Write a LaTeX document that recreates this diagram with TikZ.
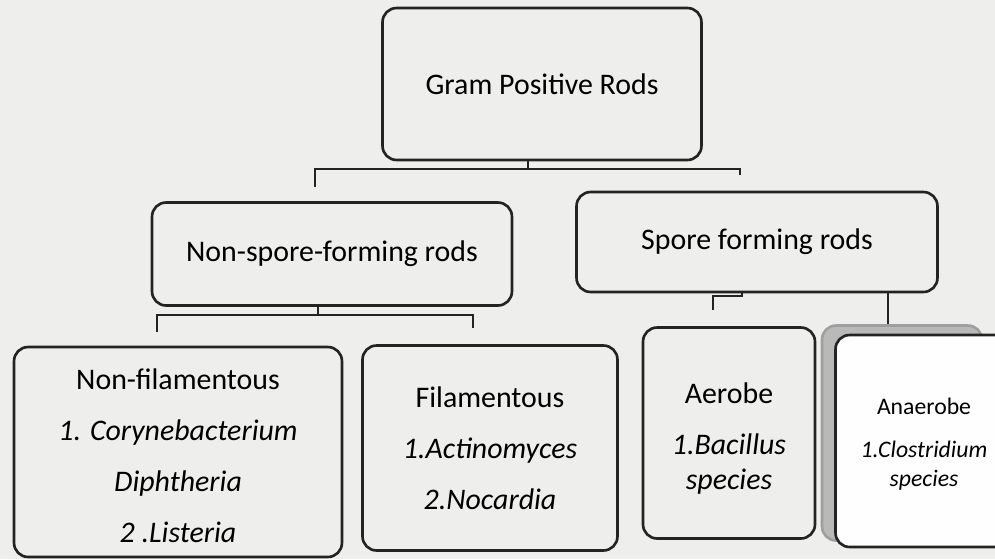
\documentclass[tikz,border=0pt]{standalone}
\usepackage{fontspec}
\setmainfont{Carlito}
\usetikzlibrary{positioning}

\definecolor{paper}{RGB}{238,238,236}
\definecolor{ink}{RGB}{35,35,35}
\newcommand{\topgap}[1]{\rule{0pt}{#1}}

\begin{document}
\begin{tikzpicture}[
    x=0.02cm, y=-0.02cm,
    box/.style={rectangle, draw=ink, fill=paper, line width=1.5pt, rounded corners=8pt, align=center, inner sep=0pt, text=black, font=\fontsize{17}{29}\selectfont},
    shadowbox/.style={rectangle, draw=gray!75, fill=gray!55, line width=1.5pt, rounded corners=8pt},
    link/.style={draw=ink, line width=1.4pt},
    thinlink/.style={draw=ink, line width=0.7pt}
]
    \clip (0,0) rectangle (995,559);
    \fill[paper] (0,0) rectangle (995,559);

    % top level
    \node[box, minimum width=6.38cm, minimum height=3.04cm] (gpr) at (542,84) {Gram Positive Rods};

    % second level
    \node[box, minimum width=7.2cm, minimum height=2.06cm] (nonspore) at (332,254) {Non-spore-forming rods};
    \node[box, minimum width=7.22cm, minimum height=2.0cm] (spore) at (757,242) {Spore forming rods};

    % third level
    \node[box, minimum width=6.56cm, minimum height=4.2cm] (nonfil) at (178,452)
        {\topgap{16pt}Non-filamentous\\ \textit{1. Corynebacterium}\\ \textit{Diphtheria}\\ \textit{2 .Listeria}};
    \node[box, minimum width=5.1cm, minimum height=4.1cm] (fil) at (490,448)
        {Filamentous\\ \textit{1.Actinomyces}\\ \textit{2.Nocardia}};
    \node[box, minimum width=3.44cm, minimum height=4.22cm, font=\fontsize{17}{20}\selectfont] (aerobe) at (729,433)
        {\topgap{18pt}Aerobe\\[9pt] \textit{1.Bacillus}\\ \textit{species}};
    \node[shadowbox, minimum width=3.2cm, minimum height=4.3cm] (anaeback) at (902,433) {};
    \node[box, fill=white!97!paper, minimum width=3.54cm, minimum height=4.24cm, font=\fontsize{13.5}{17}\selectfont] (anaerobe) at (924,441)
        {\topgap{13.5pt}Anaerobe\\[7pt] \textit{1.Clostridium}\\ \textit{species}};

    % brackets
    \coordinate (j1) at (528,169);
    \coordinate (l1) at (315,187);
    \coordinate (r1) at (740,175);
    \draw[link] (gpr.south -| j1) -- (j1);
    \draw[link] (l1) |- (j1) -| (r1);

    \coordinate (j2) at (318,315);
    \coordinate (l2) at (157,332);
    \coordinate (r2) at (473,328);
    \draw[link] (nonspore.south -| j2) -- (j2);
    \draw[link] (l2) |- (j2) -| (r2);

    \coordinate (j3) at (742,296);
    \coordinate (l3) at (713,310);
    \draw[link] (spore.south -| j3) -- (j3) -| (l3);

    \coordinate (k) at (888,0);
    \draw[thinlink] (spore.south -| k) -- (anaeback.north -| k);
\end{tikzpicture}
\end{document}
